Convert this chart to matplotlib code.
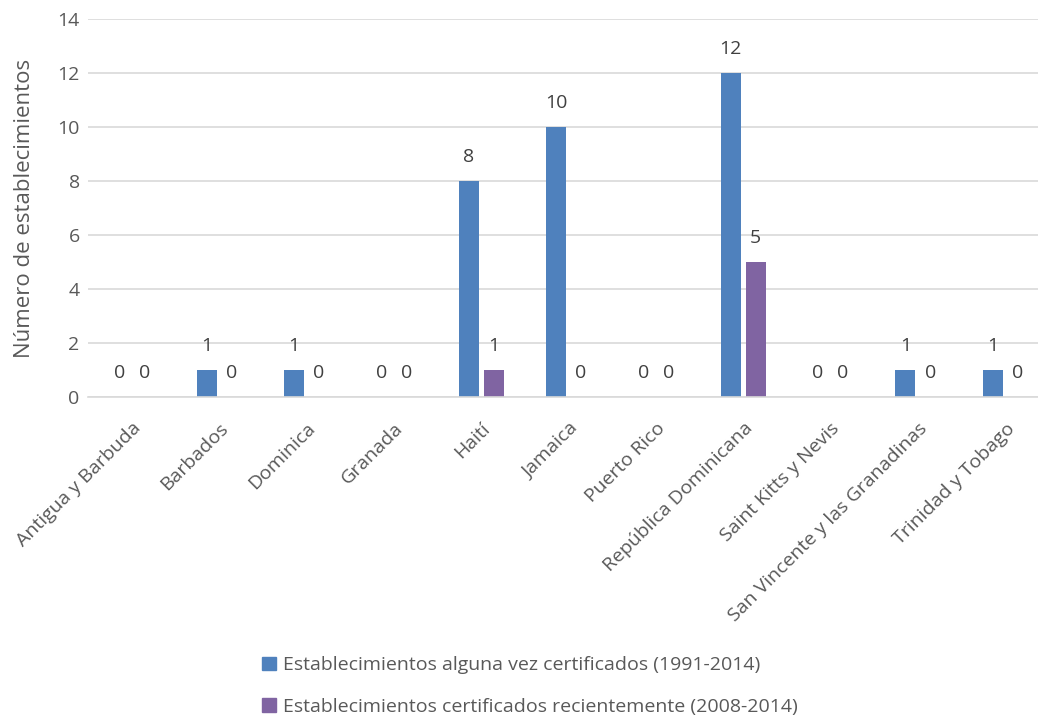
import matplotlib.pyplot as plt
import numpy as np
from matplotlib.patches import Patch

plt.rcParams["font.family"] = ["Open Sans", "DejaVu Sans"]

countries = ["Antigua y Barbuda", "Barbados", "Dominica", "Granada", "Haití",
             "Jamaica", "Puerto Rico", "República Dominicana",
             "Saint Kitts y Nevis", "San Vincente y las Granadinas",
             "Trinidad y Tobago"]
ever = [0, 1, 1, 0, 8, 10, 0, 12, 0, 1, 1]
recent = [0, 0, 0, 0, 1, 0, 0, 5, 0, 0, 0]
series_names = ["Establecimientos alguna vez certificados (1991-2014)",
                "Establecimientos certificados recientemente (2008-2014)"]

BLUE = "#4F81BD"
PURPLE = "#8064A2"
TXT = "#595959"
FS = 14

fig = plt.figure(figsize=(10.38, 7.22), dpi=100)
# plot area runs past the right edge of the picture, as in the reference
ax = fig.add_axes([88 / 1038, 0.450, 961 / 1038, 378 / 722])

x = np.arange(len(countries))
w = 0.229
off = 0.143
b1 = ax.bar(x - off, ever, w, color=BLUE, zorder=2)
b2 = ax.bar(x + off, recent, w, color=PURPLE, zorder=2)

for bars in (b1, b2):
    for r in bars:
        h = r.get_height()
        ax.annotate(f"{h:g}", (r.get_x() + r.get_width() / 2, h),
                    textcoords="offset points", xytext=(0, 11), ha="center",
                    va="bottom", fontsize=FS, color="#404040")

ax.set_xlim(-0.5, len(countries) - 0.5)
ax.set_ylim(0, 14)
ax.set_yticks(range(0, 15, 2))
ax.grid(axis="y", color="#D9D9D9", lw=1.2, zorder=0)
for s in ["top", "right", "left"]:
    ax.spines[s].set_visible(False)
ax.spines["bottom"].set_color("#D9D9D9")
ax.spines["bottom"].set_linewidth(1.2)
ax.tick_params(axis="y", length=0, labelsize=FS, colors=TXT, pad=6)
ax.tick_params(axis="x", length=0, labelsize=FS, colors=TXT, pad=16)
ax.set_xticks(x)
ax.set_xticklabels(countries, rotation=45, ha="right", rotation_mode="anchor")
ax.set_ylabel("Número de establecimientos", fontsize=16, color=TXT, labelpad=16)

handles = [Patch(color=BLUE), Patch(color=PURPLE)]
fig.legend(handles, series_names, loc="center", bbox_to_anchor=(530 / 1038, 1 - 686 / 722),
           frameon=False, fontsize=FS, labelcolor=TXT, handlelength=0.7,
           handleheight=0.7, handletextpad=0.4, labelspacing=1.2)

fig.savefig("out.png", dpi=100)
